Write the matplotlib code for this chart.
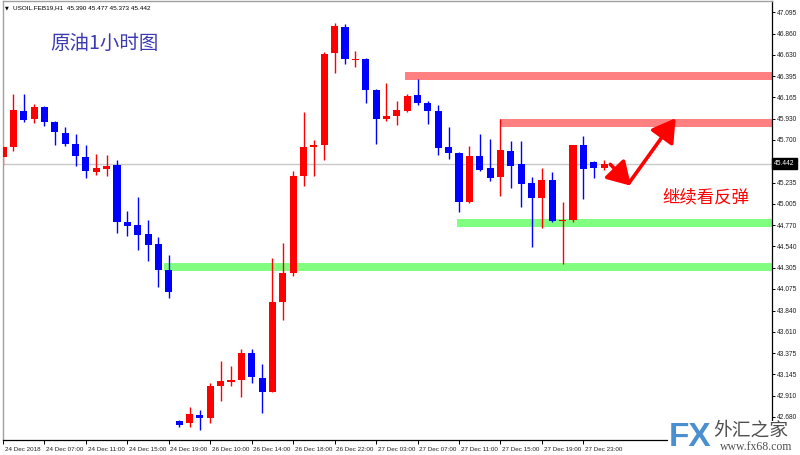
import matplotlib
matplotlib.use('Agg')
import matplotlib.pyplot as plt
import matplotlib.transforms as mtransforms
from matplotlib.patches import FancyArrowPatch, Rectangle
import numpy as np

# ---------------- data (USOIL.FEB19, H1) ----------------
opens = [45.51, 45.62, 46.02, 45.93, 46.06, 45.90, 45.78, 45.66, 45.51, 45.35,
         45.38, 45.43, 44.81, 44.77, 44.67, 44.57, 44.28, 42.64, 42.61, 42.70,
         42.67, 43.02, 43.06, 43.08, 43.38, 43.10, 42.95, 43.93, 44.25, 45.31,
         45.62, 45.64, 46.65, 46.93, 46.57, 46.58, 46.24, 45.93, 45.96, 46.02,
         46.19, 46.10, 46.02, 45.62, 45.56, 45.02, 45.52, 45.39, 45.30, 45.58,
         45.44, 45.23, 45.07, 45.26, 44.82, 44.83, 45.64, 45.46, 45.390]
highs = [45.63, 46.20, 46.20, 46.09, 46.07, 45.91, 45.84, 45.76, 45.65, 45.55,
         45.54, 45.48, 44.92, 45.08, 44.83, 44.64, 44.45, 42.65, 42.79, 42.75,
         43.05, 43.29, 43.23, 43.42, 43.42, 43.26, 44.41, 44.58, 45.36, 46.00,
         45.70, 46.66, 46.97, 46.96, 46.67, 46.59, 46.25, 46.32, 46.12, 46.20,
         46.36, 46.12, 46.08, 45.84, 45.57, 45.63, 45.76, 45.71, 45.93, 45.69,
         45.69, 45.30, 45.39, 45.35, 45.02, 45.65, 45.74, 45.47, 45.477]
lows = [45.43, 45.58, 45.90, 45.89, 45.85, 45.65, 45.63, 45.42, 45.28, 45.32,
        45.31, 44.69, 44.65, 44.50, 44.38, 44.10, 43.98, 42.57, 42.57, 42.54,
        42.61, 42.85, 43.02, 42.90, 43.05, 42.72, 42.95, 43.74, 44.22, 45.20,
        45.31, 45.48, 46.43, 46.53, 46.50, 46.10, 45.66, 45.91, 45.86, 46.00,
        46.08, 45.87, 45.54, 45.49, 44.91, 45.01, 45.36, 45.25, 45.09, 45.18,
        44.97, 44.53, 44.74, 44.81, 44.35, 44.80, 45.06, 45.29, 45.373]
closes = [45.62, 46.03, 45.92, 46.06, 45.90, 45.79, 45.66, 45.52, 45.36, 45.39,
          45.42, 44.81, 44.76, 44.66, 44.55, 44.28, 44.04, 42.59, 42.71, 42.67,
          43.02, 43.07, 43.08, 43.38, 43.11, 42.95, 43.93, 44.25, 45.31, 45.62,
          45.65, 46.64, 46.94, 46.58, 46.58, 46.24, 45.93, 45.96, 46.03, 46.18,
          46.10, 46.02, 45.61, 45.56, 45.02, 45.53, 45.37, 45.29, 45.59, 45.42,
          45.22, 45.07, 45.26, 44.82, 44.83, 45.64, 45.38, 45.39, 45.442]

xtick_idx = [0, 4, 8, 12, 16, 20, 24, 28, 32, 36, 40, 44, 48, 52, 56]
xtick_labels = ["24 Dec 2018", "24 Dec 07:00", "24 Dec 11:00", "24 Dec 15:00",
                "24 Dec 19:00", "26 Dec 10:00", "26 Dec 14:00", "26 Dec 18:00",
                "26 Dec 22:00", "27 Dec 03:00", "27 Dec 07:00", "27 Dec 11:00",
                "27 Dec 15:00", "27 Dec 19:00", "27 Dec 23:00"]
ytick_values = [47.095, 46.860, 46.630, 46.395, 46.165, 45.930, 45.700, 45.465,
                45.235, 45.005, 44.770, 44.540, 44.305, 44.075, 43.840, 43.610,
                43.375, 43.145, 42.910, 42.680]

# resistance (pink) and support (green) zones: (low, high, start bar)
resist_low = [46.352, 45.838]
resist_high = [46.439, 45.926]
resist_start = [38.8, 48.0]
support_low = [44.275, 44.756]
support_high = [44.363, 44.833]
support_start = [15.5, 43.8]

last_price = 45.442
header = "USOIL.FEB19,H1  45.390 45.477 45.373 45.442"

# ---------------- figure ----------------
W, H = 800, 455
fig = plt.figure(figsize=(8, 4.55), dpi=100)
fig.patch.set_facecolor('white')
ax = fig.add_axes([3 / W, 1 - 440 / H, 769 / W, 439 / H])
ax.set_facecolor('white')

small_font = ['Liberation Sans', 'DejaVu Sans']
cjk = ['Noto Sans CJK SC', 'DejaVu Sans']

n = len(opens)
x = np.arange(n)
o = np.array(opens); h = np.array(highs); l = np.array(lows); c = np.array(closes)
up = c >= o
colors = np.where(up, '#ff0000', '#0000ff')

# last price line
ax.axhline(last_price, color='#c8c8c8', lw=1.0, zorder=1)

# zones
xmax = 74.2
for lo, hi, s in zip(resist_low, resist_high, resist_start):
    ax.fill_between([s, xmax], lo, hi, color='#ff8080', lw=0, zorder=1.5)
for lo, hi, s in zip(support_low, support_high, support_start):
    ax.fill_between([s, xmax], lo, hi, color='#80ff80', lw=0, zorder=1.5)

# candles
ax.vlines(x, l, h, colors=colors, lw=1.0, zorder=2)
bottoms = np.minimum(o, c)
heights = np.maximum(np.abs(c - o), 0.012)
ax.bar(x, heights, bottom=bottoms, width=0.68, color=colors, lw=0, zorder=3)

ax.set_xlim(0, xmax)
ax.set_ylim(42.428, 47.215)

# axes styling
for s in ['left', 'top']:
    ax.spines[s].set_color('#a0a0a0')
    ax.spines[s].set_linewidth(1.0)
for s in ['right', 'bottom']:
    ax.spines[s].set_color('black')
    ax.spines[s].set_linewidth(0.9)

ax.yaxis.tick_right()
ax.set_yticks(ytick_values)
ax.set_yticklabels([f"{v:.3f}" for v in ytick_values], fontsize=4.8,
                   family=small_font, color='#202020')
ax.tick_params(axis='y', direction='out', length=2.5, width=0.7, pad=1.2)

ax.set_xticks(xtick_idx)
ax.set_xticklabels(xtick_labels, fontsize=4.5, family=small_font, color='#202020')
ax.tick_params(axis='x', direction='out', length=3, width=0.7, pad=1.8)
offset = mtransforms.ScaledTranslation(1.2 / 72, 0, fig.dpi_scale_trans)
for lab in ax.get_xticklabels():
    lab.set_horizontalalignment('left')
    lab.set_transform(lab.get_transform() + offset)

# price box
trans = mtransforms.blended_transform_factory(ax.transAxes, ax.transData)
ax.text(1.003, last_price, f"{last_price:.3f}", transform=trans, fontsize=4.8,
        family=small_font, color='white', va='center', ha='left', clip_on=False,
        zorder=10, bbox=dict(boxstyle='square,pad=0.3', fc='black', ec='black'))

# header
fig.text(5 / W, 1 - 8 / H, "\u25BC", fontsize=3.5, color='black', va='center', ha='left')
fig.text(13 / W, 1 - 8 / H, header, fontsize=4.6, family=small_font,
         color='black', va='center', ha='left')

# title
fig.text(50 / W, 1 - 43 / H, "原油1小时图", fontsize=14, family=cjk,
         color='#3a3ab4', va='center', ha='left')

# arrows
arrow_kw = dict(arrowstyle='-|>,head_length=1.0,head_width=0.6', mutation_scale=14,
                color='#ff0000', lw=2.6, shrinkA=0, shrinkB=0, zorder=6)
a1 = FancyArrowPatch((58.6, 45.434), (60.6, 45.20), **arrow_kw)
a2 = FancyArrowPatch((60.4, 45.23), (64.9, 45.937), **arrow_kw)
ax.add_patch(a1)
ax.add_patch(a2)

ax.text(63.6, 45.073, "继续看反弹", fontsize=12.5, family=cjk, color='#ff0000',
        va='center', ha='left', zorder=6)

# watermark
fig.patches.append(Rectangle((668 / W, 0), 132 / W, 34 / H, transform=fig.transFigure,
                             facecolor='white', edgecolor='none', zorder=20))
fig.text(669 / W, 1 - 437 / H, "FX", fontsize=24, family=small_font,
         fontweight='bold', color='#4a8fd0', va='center', ha='left', zorder=21)
fig.text(713 / W, 1 - 430.5 / H, "外汇之家", fontsize=13.5, family=cjk,
         color='#505050', va='center', ha='left', zorder=21)
fig.text(720 / W, 1 - 447 / H, "www.fx68.com", fontsize=8.5, family=['Liberation Serif', 'DejaVu Serif'],
         color='#505050', va='center', ha='left', zorder=21)

fig.savefig('out.png', dpi=100, facecolor='white')
